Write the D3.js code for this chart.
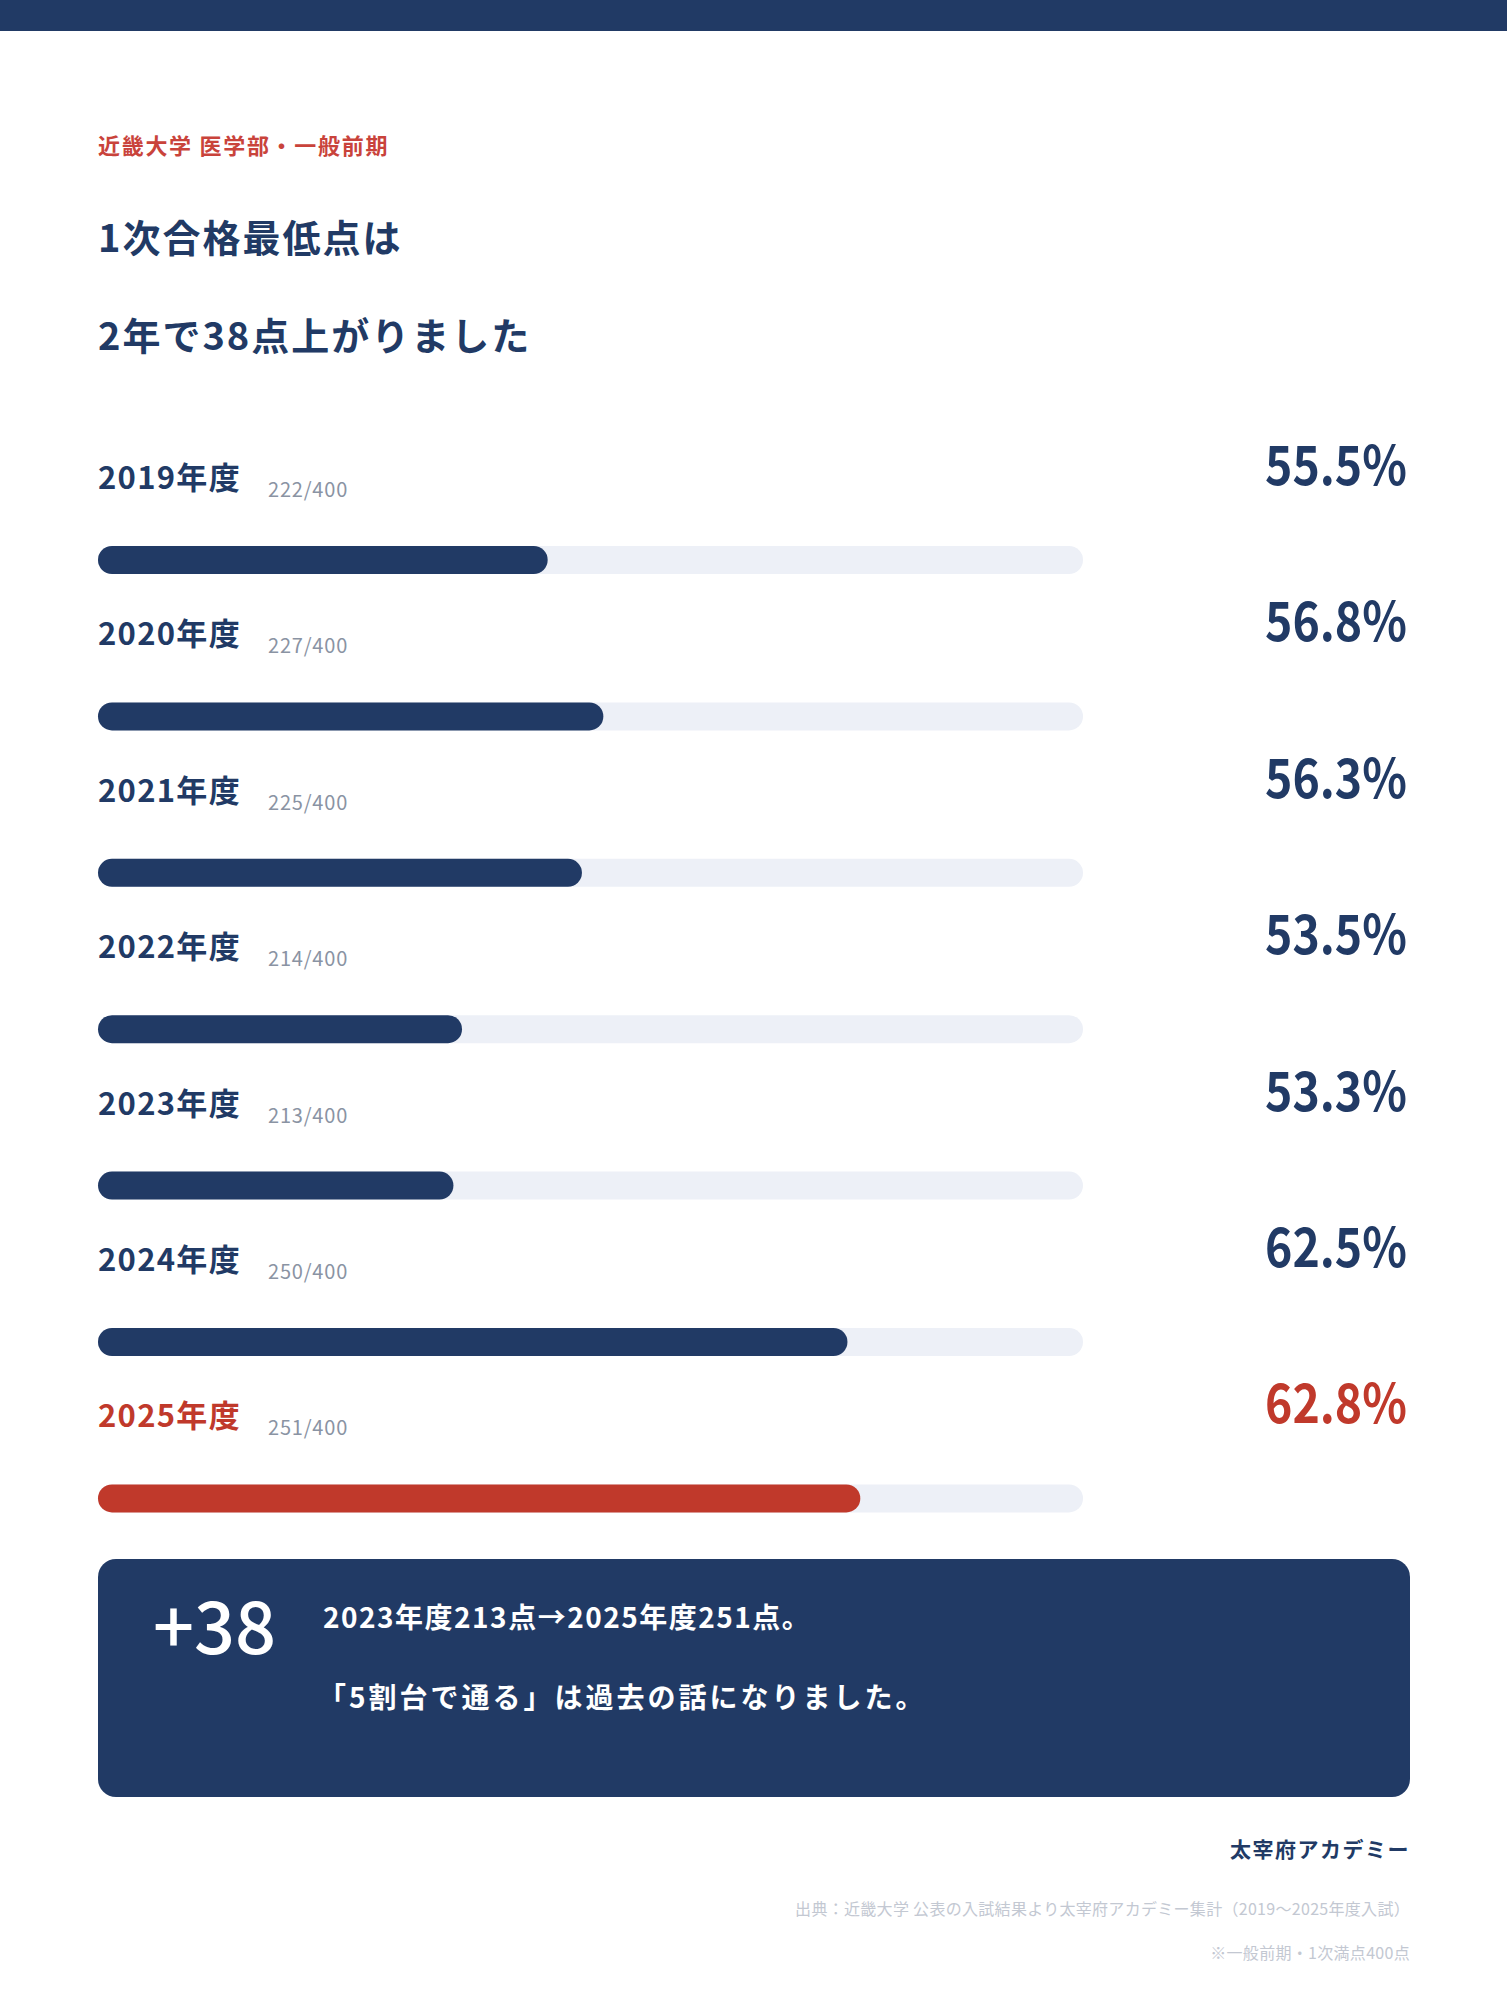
<!DOCTYPE html>
<html>
<head>
<meta charset="utf-8">
<script src="https://cdn.jsdelivr.net/npm/d3@7"></script>
<style>
  body { margin: 0; background: #fff; }
  svg text { font-family: "Noto Sans CJK JP", "Noto Sans", sans-serif; }
</style>
</head>
<body>
<div id="chart"></div>
<script>
// data
var years = ["2019年度", "2020年度", "2021年度", "2022年度", "2023年度", "2024年度", "2025年度"];
var scores = [222, 227, 225, 214, 213, 250, 251];
var rates = [55.5, 56.8, 56.3, 53.5, 53.3, 62.5, 62.8];
var maxScore = 400;
var highlight = "2025年度";

var navy = "#213a65", red = "#c0392b", track = "#edf0f7";

var width = 1507, height = 2000;
var left = 98, right = 1410;

var svg = d3.select("#chart")
  .append("svg")
    .attr("width", width)
    .attr("height", height);

// top band
svg.append("rect").attr("x", 0).attr("y", 0).attr("width", width).attr("height", 31).attr("fill", navy);

// headings
svg.append("text").attr("x", left).attr("y", 154).text("近畿大学 医学部・一般前期")
  .style("font-size", "22px").style("font-weight", 700).style("letter-spacing", "1.7px").attr("fill", "#c9433b");
svg.append("text").attr("x", left).attr("y", 252).text("1次合格最低点は")
  .style("font-size", "38px").style("font-weight", 700).style("letter-spacing", "2px").attr("fill", navy);
svg.append("text").attr("x", left).attr("y", 350).text("2年で38点上がりました")
  .style("font-size", "38px").style("font-weight", 700).style("letter-spacing", "2px").attr("fill", navy);

// scales
var x = d3.scaleLinear().domain([45, 68]).range([left, 1083]);
var y = d3.scaleBand().domain(years).range([460, 460 + 156.4 * years.length]);

var rows = svg.append("g").selectAll("g")
  .data(years)
  .enter().append("g")
    .attr("transform", function(d) { return "translate(0," + y(d) + ")"; });

rows.append("text")
  .attr("x", left).attr("y", 29)
  .text(function(d) { return d; })
  .style("font-size", "31px").style("font-weight", 700).style("letter-spacing", "1.3px")
  .attr("fill", function(d) { return d == highlight ? red : navy; });

rows.append("text")
  .attr("x", 268).attr("y", 37)
  .text(function(d, i) { return scores[i] + "/" + maxScore; })
  .style("font-size", "20px").style("letter-spacing", "0.8px")
  .attr("fill", "#8a93a3");

// percentages (narrowed a little)
var sx = 0.86;
rows.append("text")
  .attr("transform", "scale(" + sx + ",1)")
  .attr("x", 1407 / sx).attr("y", 25)
  .attr("text-anchor", "end")
  .text(function(d, i) { return rates[i].toFixed(1) + "%"; })
  .style("font-size", "54px").style("font-weight", 600)
  .attr("fill", function(d) { return d == highlight ? red : navy; });

rows.append("rect")
  .attr("x", x(45)).attr("y", 86)
  .attr("width", x(68) - x(45)).attr("height", 28)
  .attr("rx", 14)
  .attr("fill", track);

rows.append("rect")
  .attr("x", x(45)).attr("y", 86)
  .attr("width", function(d, i) { return x(rates[i]) - x(45); })
  .attr("height", 28)
  .attr("rx", 14)
  .attr("fill", function(d) { return d == highlight ? red : navy; });

// callout
svg.append("rect").attr("x", left).attr("y", 1559).attr("width", right - left).attr("height", 238)
  .attr("rx", 18).attr("fill", navy);
svg.append("text").attr("x", 153).attr("y", 1654).text("+38")
  .style("font-size", "72px").style("font-weight", 500).attr("fill", "#fff");
svg.append("text").attr("x", 323).attr("y", 1628).text("2023年度213点→2025年度251点。")
  .style("font-size", "28px").style("font-weight", 700).style("letter-spacing", "1.5px").attr("fill", "#fff");
svg.append("text").attr("x", 318).attr("y", 1708).text("「5割台で通る」は過去の話になりました。")
  .style("font-size", "28px").style("font-weight", 700).style("letter-spacing", "3px").attr("fill", "#fff");

// footer
svg.append("text").attr("x", right).attr("y", 1857).attr("text-anchor", "end").text("太宰府アカデミー")
  .style("font-size", "21px").style("font-weight", 700).style("letter-spacing", "1.5px").attr("fill", navy);
svg.append("text").attr("x", right).attr("y", 1915).attr("text-anchor", "end")
  .text("出典：近畿大学 公表の入試結果より太宰府アカデミー集計（2019〜2025年度入試）")
  .style("font-size", "16px").style("letter-spacing", "0.3px").attr("fill", "#c3c8d2");
svg.append("text").attr("x", right).attr("y", 1959).attr("text-anchor", "end")
  .text("※一般前期・1次満点400点")
  .style("font-size", "16px").style("letter-spacing", "0.3px").attr("fill", "#c3c8d2");
</script>
</body>
</html>
